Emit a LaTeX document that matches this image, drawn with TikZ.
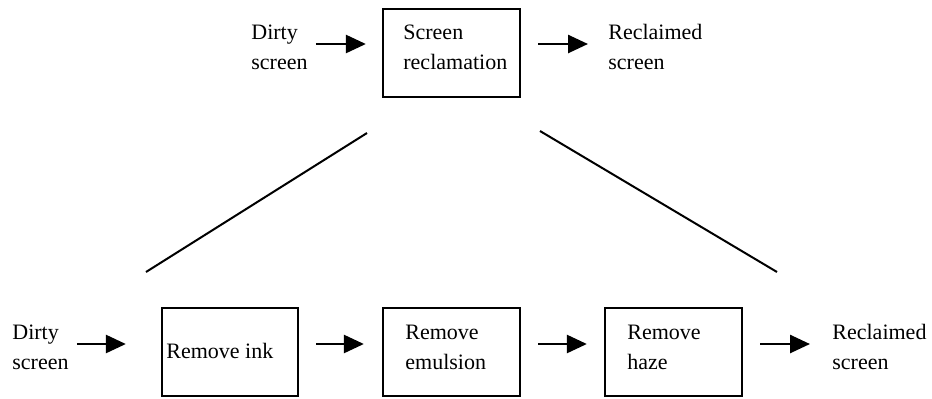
\documentclass[tikz,border=0pt]{standalone}
\usepackage{fontspec}
\setmainfont{Liberation Serif}
\usetikzlibrary{arrows.meta}
\begin{document}
\begin{tikzpicture}[x=0.5pt,y=-0.5pt,
  lbl/.style={inner sep=0pt,anchor=base west,align=left,
    font=\fontsize{11}{15}\selectfont},
  stagebox/.style={draw,line width=1.15pt,inner sep=0pt,
    minimum width=68.5pt,minimum height=44pt},
  flow/.style={line width=1.3pt,-{Triangle[length=10pt,width=9pt]}},
  link/.style={line width=1pt}]
\useasboundingbox (0,0) rectangle (932,398);

% overall process (label anchors sit on the last line's baseline)
\node[stagebox] (top) at (451.5,53) {};
\node[lbl] (dirtyT) at (251,69) {Dirty\\screen};
\node[lbl] at (403,69) {Screen\\reclamation};
\node[lbl] (cleanT) at (608,69) {Reclaimed\\screen};
\coordinate (rowT) at (0,44);
\draw[flow,shorten <=4pt,shorten >=8pt] (dirtyT.east |- rowT) -- (top.west |- rowT);
\draw[flow,shorten <=8.5pt,shorten >=10pt] (top.east |- rowT) -- (cleanT.west |- rowT);

% expansion lines
\coordinate (ll) at (146,272);
\coordinate (lu) at (367,133);
\coordinate (ru) at (540,131);
\coordinate (rl) at (777,272);
\draw[link] (ll) -- (lu);
\draw[link] (ru) -- (rl);

% detailed steps
\node[stagebox,minimum width=68pt] (ink) at (230,352) {};
\node[stagebox] (emul) at (451.5,352) {};
\node[stagebox] (haze) at (673.5,352) {};
\node[lbl] (dirtyB) at (12,369) {Dirty\\screen};
\node[lbl] at (166,358) {Remove ink};
\node[lbl] at (405,369) {Remove\\emulsion};
\node[lbl] at (627,369) {Remove\\haze};
\node[lbl] (cleanB) at (832,369) {Reclaimed\\screen};
\coordinate (rowB) at (0,344);
\draw[flow,shorten <=4pt,shorten >=17.5pt] (dirtyB.east |- rowB) -- (ink.west |- rowB);
\draw[flow,shorten <=8.5pt,shorten >=9pt] (ink.east |- rowB) -- (emul.west |- rowB);
\draw[flow,shorten <=8.5pt,shorten >=8.5pt] (emul.east |- rowB) -- (haze.west |- rowB);
\draw[flow,shorten <=8.5pt,shorten >=11pt] (haze.east |- rowB) -- (cleanB.west |- rowB);
\end{tikzpicture}
\end{document}
